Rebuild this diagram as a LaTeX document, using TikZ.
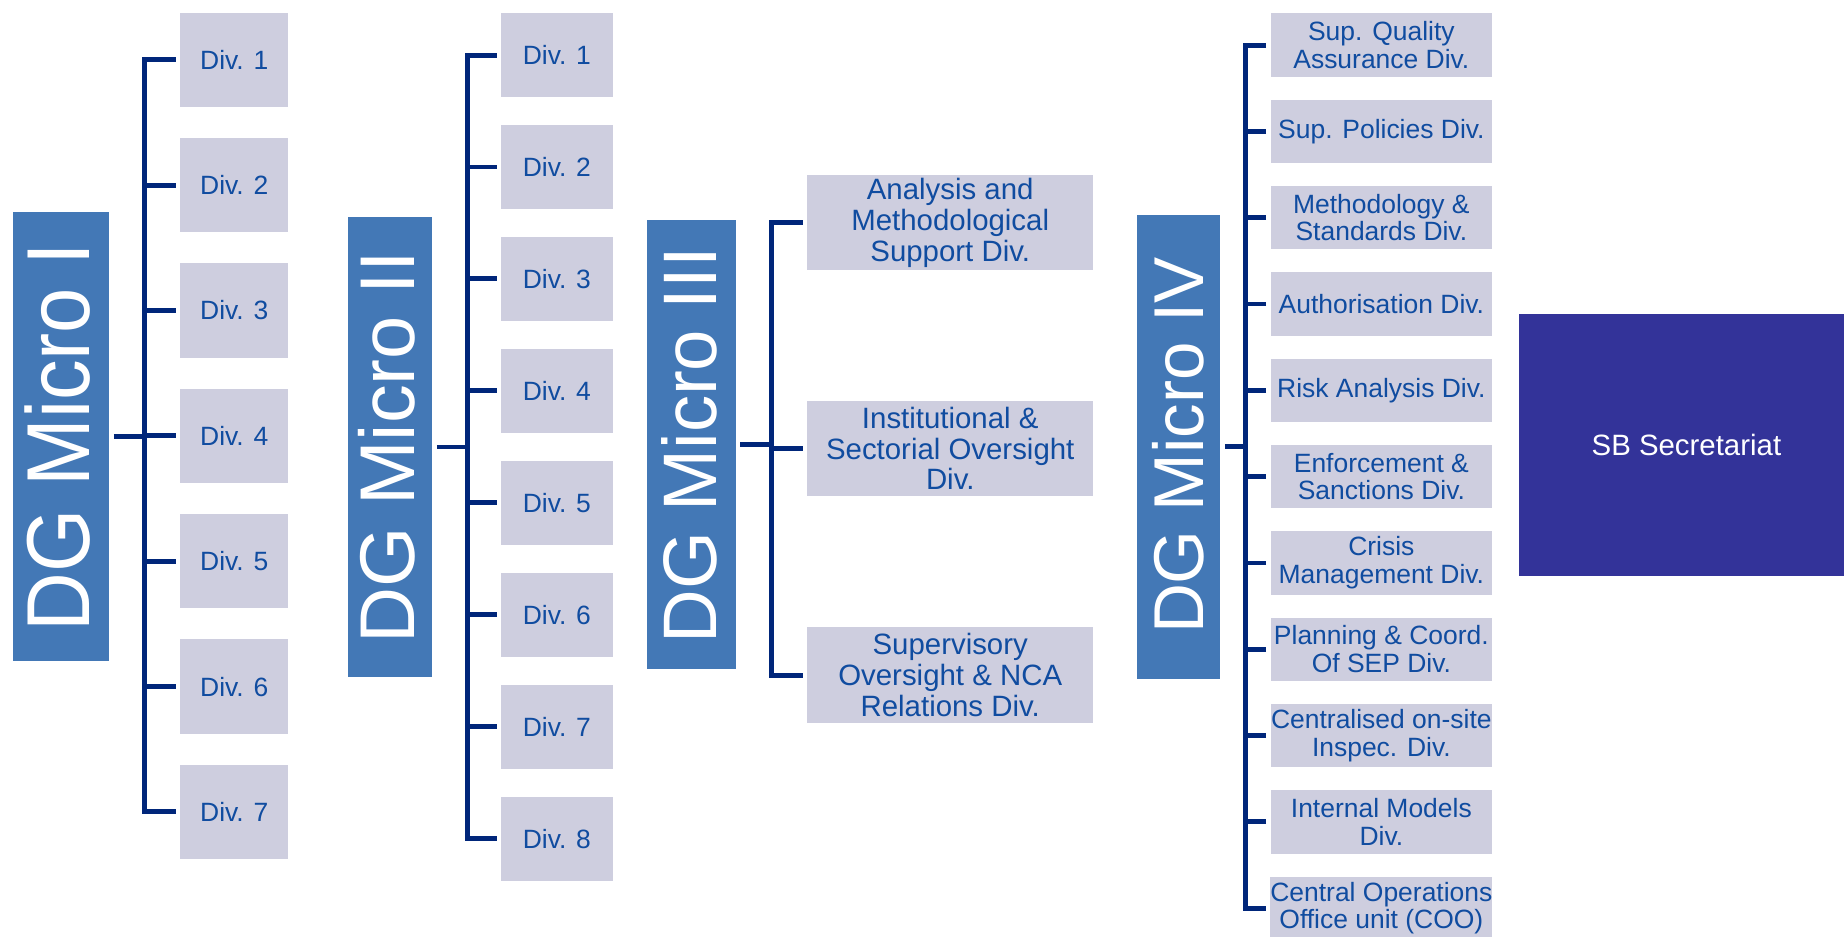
\documentclass[tikz,border=0pt]{standalone}
\usepackage{fontspec}
\setmainfont{Liberation Sans}
\usetikzlibrary{calc}
\definecolor{dgblue}{RGB}{67,120,182}
\definecolor{divfill}{RGB}{206,206,223}
\definecolor{divtext}{RGB}{16,76,160}
\definecolor{connc}{RGB}{0,38,122}
\definecolor{sbfill}{RGB}{51,51,153}
\tikzset{
  conn/.style={draw=connc, line width=4.2pt},
  divbox/.style={fill=divfill, text=divtext, inner sep=0pt, outer sep=3.8pt, align=center},
  divsmall/.style={divbox, font=\fontsize{22.5}{23.5}\selectfont},
  divbig/.style={divbox, font=\fontsize{25}{26}\selectfont},
  dgbox/.style={fill=dgblue, inner sep=0pt, outer sep=4pt},
  dgtext/.style={text=white, inner sep=0pt, rotate=90, anchor=base},
  sbbox/.style={fill=sbfill, text=white, inner sep=0pt, font=\fontsize{25}{26}\selectfont}
}
\begin{document}
\begin{tikzpicture}[x=1pt,y=-1pt]
\useasboundingbox (0,0) rectangle (1568,796);
\clip (0,0) rectangle (1568,796);

% ---------- DG Micro I ----------
\node[dgbox, minimum width=81.6pt, minimum height=382pt] (dg1) at (52.1,371) {};
\node[dgtext, font=\fontsize{76}{76}\selectfont] (dg1t) at (76,371.5) {\scalebox{0.91}[1]{DG Micro I}};
\foreach \i in {1,...,7}{
  \node[divsmall, minimum width=91.7pt, minimum height=80.3pt] (c1d\i) at (199.2,{50.8+106.6*(\i-1)}) {Div. \i};
}
\coordinate (bus1) at (123,0);
\draw[conn] (c1d1.west) -| (bus1 |- c1d7.west) -- (c1d7.west);
\foreach \i in {2,...,6}{ \draw[conn] (c1d\i.west) -- (c1d\i.west -| bus1); }
\draw[conn] (dg1.east) -- (dg1.east -| bus1);

% ---------- DG Micro II ----------
\node[dgbox, minimum width=71.4pt, minimum height=391.8pt] (dg2) at (331.7,380.1) {};
\node[dgtext, font=\fontsize{66}{66}\selectfont] (dg2t) at (352.7,380.5) {DG Micro II};
\foreach \i in {1,...,8}{
  \node[divsmall, minimum width=95pt, minimum height=71pt] (c2d\i) at (473.5,{46.8+95.2*(\i-1)}) {Div. \i};
}
\coordinate (bus2) at (397.5,0);
\draw[conn] (c2d1.west) -| (bus2 |- c2d8.west) -- (c2d8.west);
\foreach \i in {2,...,7}{ \draw[conn] (c2d\i.west) -- (c2d\i.west -| bus2); }
\draw[conn] (dg2.east) -- (dg2.east -| bus2);

% ---------- DG Micro III ----------
\node[dgbox, minimum width=75.1pt, minimum height=382pt] (dg3) at (588,378) {};
\node[dgtext, font=\fontsize{64.5}{64.5}\selectfont] (dg3t) at (609.4,378.6) {\scalebox{0.98}[1]{DG Micro III}};
\node[divbig, minimum width=243pt, minimum height=81pt] (c3d1) at (808,189.5) {Analysis and\\Methodological\\Support Div.};
\node[divbig, minimum width=243pt, minimum height=81pt] (c3d2) at (808,381.5) {Institutional \&\\Sectorial Oversight\\Div.};
\node[divbig, minimum width=243pt, minimum height=81pt] (c3d3) at (808,574) {Supervisory\\Oversight \& NCA\\Relations Div.};
\coordinate (bus3) at (656,0);
\draw[conn] (c3d1.west) -| (bus3 |- c3d3.west) -- (c3d3.west);
\draw[conn] (c3d2.west) -- (c3d2.west -| bus3);
\draw[conn] (dg3.east) -- (dg3.east -| bus3);

% ---------- DG Micro IV ----------
\node[dgbox, minimum width=70.5pt, minimum height=394pt] (dg4) at (1002.3,380) {};
\node[dgtext, font=\fontsize{60}{60}\selectfont] (dg4t) at (1023,379) {\scalebox{0.98}[1]{DG Micro IV}};
\foreach \i/\t in {1/{Sup. Quality\\Assurance Div.},
                   2/{Sup. Policies Div.},
                   3/{Methodology \&\\Standards Div.},
                   4/{Authorisation Div.},
                   5/{Risk Analysis Div.},
                   6/{Enforcement \&\\Sanctions Div.},
                   7/{Crisis\\Management Div.},
                   8/{Planning \& Coord.\\Of SEP Div.},
                   9/{Centralised on-site\\Inspec. Div.},
                   10/{Internal Models\\Div.},
                   11/{Central Operations\\Office unit (COO)}}{
  \node[divsmall, minimum width=188.3pt, minimum height=54pt] (c4d\i) at (1174.6,{38.3+73.4*(\i-1)}) {\t};
}
\coordinate (bus4) at (1059,0);
\draw[conn] (c4d1.west) -| (bus4 |- c4d11.west) -- (c4d11.west);
\foreach \i in {2,...,10}{ \draw[conn] (c4d\i.west) -- (c4d\i.west -| bus4); }
\draw[conn] (dg4.east) -- (dg4.east -| bus4);

% ---------- SB Secretariat ----------
\node[sbbox, minimum width=276.5pt, minimum height=223pt] (sb) at (1429.75,378.5) {};
\node[text=white, inner sep=0pt, font=\fontsize{25}{26}\selectfont] (sbt) at (1434,378.5) {SB Secretariat};
\end{tikzpicture}
\end{document}
